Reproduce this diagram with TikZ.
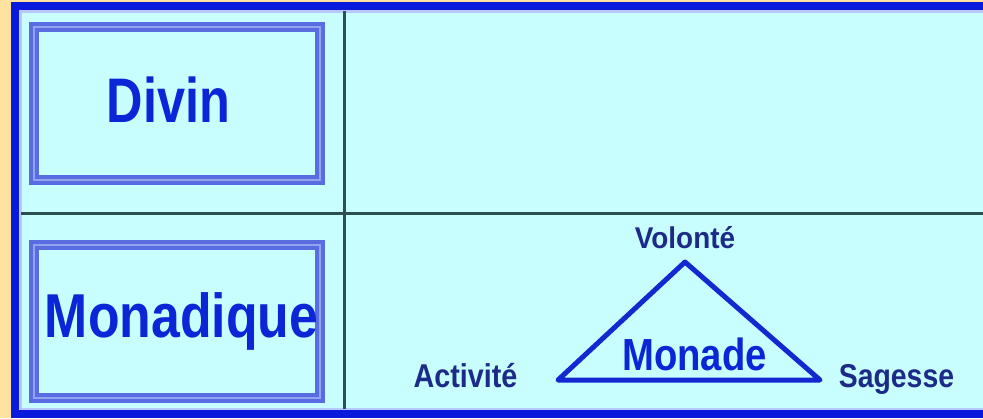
\documentclass[tikz,border=0pt]{standalone}
\usepackage{fontspec}
\setmainfont{Liberation Sans}
\definecolor{orangebg}{HTML}{FFE2A0}
\definecolor{cyanbg}{HTML}{C8FEFE}
\definecolor{borderblue}{HTML}{0A1ADC}
\definecolor{stripc}{HTML}{B8C8FF}
\definecolor{gridc}{HTML}{2C5050}
\definecolor{boxblue}{HTML}{5A6CE2}
\definecolor{boxlight}{HTML}{92A4F0}
\definecolor{textblue}{HTML}{0A26D6}
\definecolor{navy}{HTML}{1C2A88}
\definecolor{triblue}{HTML}{1428D2}
\tikzset{
  dbox/.style={draw=boxblue, line width=4pt, double=boxlight, double distance=2pt,
    fill=cyanbg, minimum width=286pt, minimum height=153pt, inner sep=0pt},
  bigtxt/.style={text=textblue, inner sep=0pt, anchor=base,
    font=\fontsize{63}{70}\selectfont\bfseries},
  midtxt/.style={text=textblue, inner sep=0pt, anchor=base,
    font=\fontsize{45}{50}\selectfont\bfseries},
  smalltxt/.style={text=navy, inner sep=0pt, anchor=base,
    font=\fontsize{33}{36}\selectfont\bfseries},
  gridline/.style={draw=gridc, line width=3pt},
  triline/.style={draw=triblue, line width=5pt, line join=round}
}
\begin{document}
\begin{tikzpicture}[x=1pt,y=-1pt]
\useasboundingbox (0,0) rectangle (983,418);
\fill[orangebg] (0,0) rectangle (983,418);
\fill[cyanbg] (11,2) rectangle (983,418);
% outer blue frame
\fill[borderblue] (11,2) rectangle (983,10);
\fill[borderblue] (11,2) rectangle (19,418);
\fill[borderblue] (11,410) rectangle (983,418);
\draw[stripc, line width=2.5pt] (983,11.25) -- (20.25,11.25) -- (20.25,408.75) -- (983,408.75);
% grid
\draw[gridline] (344,11) -- (344,409);
\draw[gridline] (21,213) -- (983,213);
% boxes
\node[dbox] (divbox) at (177,103.5) {};
\node[dbox] (monbox) at (177,321.5) {};
\node[bigtxt] (divin) at (168.5,122) {\scalebox{0.8}[1]{Divin}};
\node[bigtxt, font=\fontsize{62}{70}\selectfont\bfseries] (monadique) at (181.5,337) {\scalebox{0.835}[1]{Monadique}};
% triangle
\coordinate (vtop) at (685,262);
\coordinate (vleft) at (558,380);
\coordinate (vright) at (820,380);
\draw[triline] (vtop) -- (vleft) -- (vright) -- cycle;
\node[midtxt] (monade) at (694.5,370) {\scalebox{0.85}[1]{Monade}};
\node[smalltxt, font=\fontsize{30}{34}\selectfont\bfseries] (volonte) at (685,248) {\scalebox{0.93}[1]{Volonté}};
\node[smalltxt] (activite) at (465.5,387) {\scalebox{0.87}[1]{Activité}};
\node[smalltxt] (sagesse) at (896.5,387) {\scalebox{0.86}[1]{Sagesse}};
\end{tikzpicture}
\end{document}
